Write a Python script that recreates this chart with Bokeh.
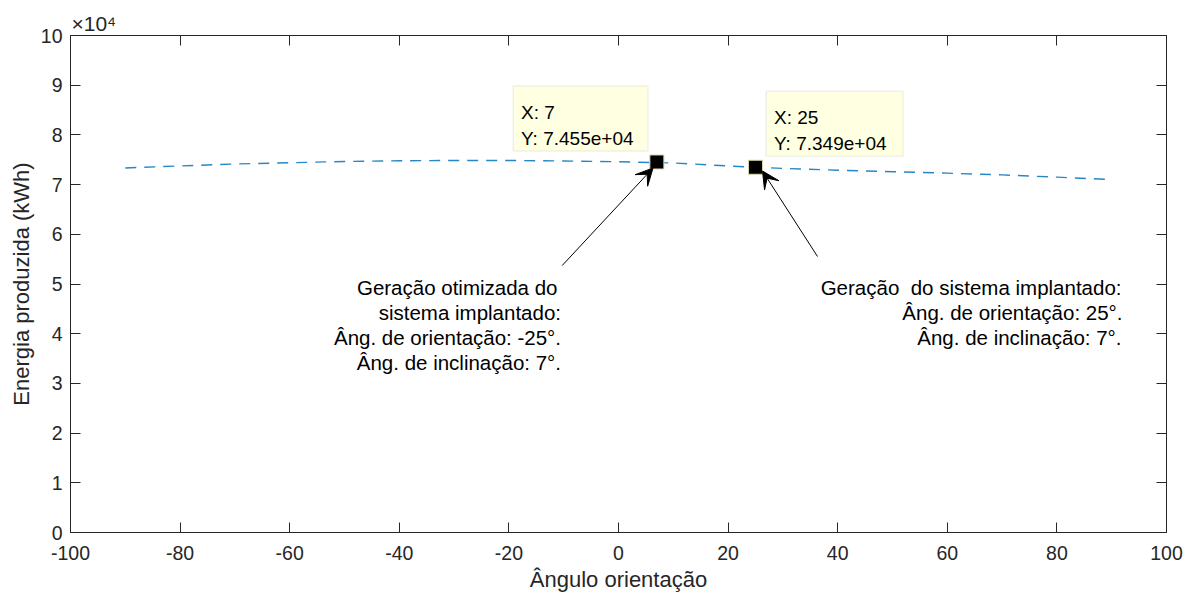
from bokeh.plotting import figure
from bokeh.models import (Range1d, LinearAxis, FixedTicker, Label, Arrow,
                          VeeHead, BoxAnnotation)
from bokeh.embed import file_html
from bokeh.resources import INLINE

# ---------------- data ----------------
angles = [-90, -80, -70, -60, -50, -40, -30, -20, -10, 0,
          10, 20, 30, 40, 50, 60, 70, 80, 90]
energy_kwh = [73350, 73750, 74150, 74400, 74650, 74800, 74850, 74850, 74750, 74600,
              74350, 73750, 73250, 72900, 72600, 72300, 71950, 71500, 71000]

tip_x = [7, 25]
tip_y = [74550, 73490]

x_ticks = [-100, -80, -60, -40, -20, 0, 20, 40, 60, 80, 100]
x_tick_labels = ["-100", "-80", "-60", "-40", "-20", "0", "20", "40", "60", "80", "100"]
y_ticks = [0, 10000, 20000, 30000, 40000, 50000, 60000, 70000, 80000, 90000, 100000]
y_tick_labels = ["0", "1", "2", "3", "4", "5", "6", "7", "8", "9", "10"]

note_opt = ["Geração otimizada do", "sistema implantado:",
            "Âng. de orientação: -25°.", "Âng. de inclinação: 7°."]
note_impl = ["Geração\u00a0 do sistema implantado:",
             "Âng. de orientação: 25°.", "Âng. de inclinação: 7°."]

# ---------------- layout ----------------
FONT = "Liberation Sans"
TXT = "#262626"
W, H = 1194, 596
FL, FR, FT, FB = 70, 1166, 35, 532   # frame in page pixels
XMIN, XMAX, YMIN, YMAX = -100, 100, 0, 100000

def dx(px):  # page pixel -> data x
    return XMIN + (px - FL) * (XMAX - XMIN) / (FR - FL)

def dy(py):  # page pixel -> data y
    return YMIN + (FB - py) * (YMAX - YMIN) / (FB - FT)

p = figure(width=W, height=H, output_backend="svg", toolbar_location=None,
           x_range=Range1d(XMIN, XMAX), y_range=Range1d(YMIN, YMAX),
           min_border_left=FL, min_border_right=W - FR,
           min_border_top=FT, min_border_bottom=H - FB,
           background_fill_color="white", border_fill_color="white")
p.grid.visible = False
p.outline_line_color = TXT
p.outline_line_width = 1

# "x10^4" multiplier shown as a left-aligned title above the frame
p.title.text = "×10\u2074"
p.title.text_font = FONT
p.title.text_font_size = "21px"
p.title.text_font_style = "normal"
p.title.text_color = TXT
p.title.align = "left"
p.title.offset = 1
p.title.standoff = 2

def style_axis(ax, ticks, labels, show_labels=True):
    ax.ticker = FixedTicker(ticks=ticks)
    if show_labels:
        ax.major_label_overrides = {t: l for t, l in zip(ticks, labels)}
    else:
        ax.major_label_overrides = {t: "" for t in ticks}
        ax.major_label_standoff = 0
    ax.axis_line_color = TXT
    ax.major_tick_line_color = TXT
    ax.major_tick_in = 10
    ax.major_tick_out = 0
    ax.minor_tick_line_color = None
    ax.major_label_text_font = FONT
    ax.major_label_text_color = TXT
    ax.major_label_text_font_size = "19.5px"

style_axis(p.xaxis[0], x_ticks, x_tick_labels)
style_axis(p.yaxis[0], y_ticks, y_tick_labels)
p.xaxis[0].major_label_standoff = 13
p.yaxis[0].major_label_standoff = 8

p.xaxis[0].axis_label = "Ângulo orientação"
p.yaxis[0].axis_label = "Energia produzida (kWh)"
for ax in (p.xaxis[0], p.yaxis[0]):
    ax.axis_label_text_font = FONT
    ax.axis_label_text_font_size = "22px"
    ax.axis_label_text_font_style = "normal"
    ax.axis_label_text_color = TXT
    ax.axis_label_standoff = 4

top_ax = LinearAxis()
right_ax = LinearAxis()
style_axis(top_ax, x_ticks, x_tick_labels, show_labels=False)
style_axis(right_ax, y_ticks, y_tick_labels, show_labels=False)
p.add_layout(top_ax, "above")
p.add_layout(right_ax, "right")

# curve
p.line(angles, energy_kwh, line_color="#0072BD", line_width=1.4,
       line_dash="11 8", line_alpha=0.85)

# data tips
boxes = [(512.7, 647.5, 85.5, 150.5), (765.7, 902.5, 90.7, 155.7)]
text_left = [520.5, 773.5]
for i in range(2):
    l, r, t, b = boxes[i]
    p.add_layout(BoxAnnotation(left=dx(l), right=dx(r), top=dy(t), bottom=dy(b),
                               fill_color="#FFFFE1", fill_alpha=1.0,
                               line_color="#cfcfcf", line_width=1.5, level="overlay"))
    base = t + 26.5
    p.add_layout(Label(x=dx(text_left[i]), y=dy(base), text="X: %g" % tip_x[i],
                       text_font=FONT, text_font_size="19px", text_color="black",
                       text_baseline="alphabetic", level="overlay"))
    p.add_layout(Label(x=dx(text_left[i]), y=dy(base + 26), text="Y: %.3e" % tip_y[i],
                       text_font=FONT, text_font_size="19px", text_color="black",
                       text_baseline="alphabetic", level="overlay"))

p.scatter(tip_x, tip_y, marker="square", size=14, fill_color="black",
          line_color="#d6d6a8", line_width=1)

# arrows
arrows = [((561.7, 265), (652.5, 167.5)), ((817, 256), (762, 170.5))]
for (x0, y0), (x1, y1) in arrows:
    p.add_layout(Arrow(end=VeeHead(size=17, fill_color="black", line_color="black"),
                       x_start=dx(x0), y_start=dy(y0), x_end=dx(x1), y_end=dy(y1),
                       line_color="black", line_width=1))

# notes
opt_right = [557, 560.5, 560.5, 560.5]
opt_base = [287, 312, 337, 361.5]
for txt, xr, yb in zip(note_opt, opt_right, opt_base):
    p.add_layout(Label(x=dx(xr), y=dy(yb), text=txt, text_font=FONT,
                       text_font_size="20.5px", text_color="black",
                       text_align="right", text_baseline="alphabetic"))
impl_right = [1121, 1122, 1121]
impl_base = [287, 312, 337]
for txt, xr, yb in zip(note_impl, impl_right, impl_base):
    p.add_layout(Label(x=dx(xr), y=dy(yb), text=txt, text_font=FONT,
                       text_font_size="20.5px", text_color="black",
                       text_align="right", text_baseline="alphabetic"))

open("out.html", "w").write(file_html(p, INLINE))
